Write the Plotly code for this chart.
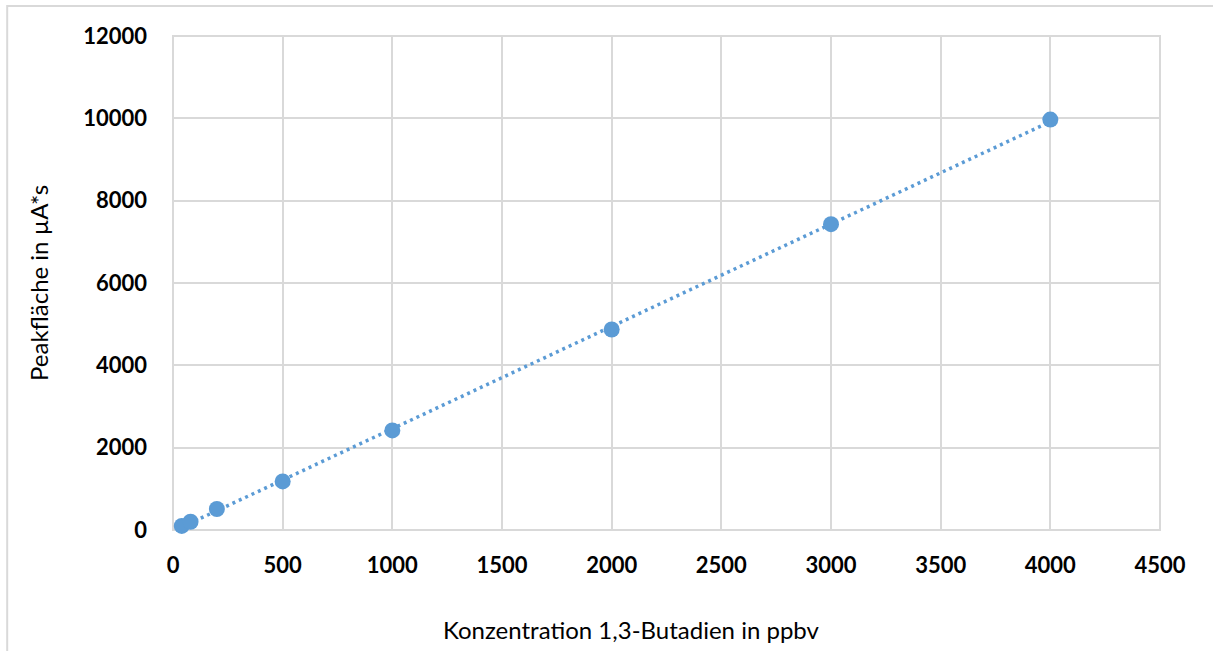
import numpy as np
import plotly.graph_objects as go

# Calibration data: 1,3-butadiene concentration vs. peak area
konzentration_ppbv = [40, 80, 200, 500, 1000, 2000, 3000, 4000]
peakflaeche = [100, 200, 510, 1180, 2420, 4870, 7430, 9970]

x_ticks = [0, 500, 1000, 1500, 2000, 2500, 3000, 3500, 4000, 4500]
y_ticks = [0, 2000, 4000, 6000, 8000, 10000, 12000]

x_title = "Konzentration 1,3-Butadien in ppbv"
y_title = "Peakfläche in µA*s"

blue = "#5B9BD5"
grid = "#D9D9D9"
font_family = "Lato, 'Open Sans', 'DejaVu Sans', sans-serif"

# Linear trend line fitted to the measurements
slope, intercept = np.polyfit(konzentration_ppbv, peakflaeche, 1)
trend_x = [min(konzentration_ppbv), max(konzentration_ppbv)]
trend_y = [slope * v + intercept for v in trend_x]

fig = go.Figure()
fig.add_trace(go.Scatter(
    x=trend_x, y=trend_y, mode="lines",
    line=dict(color=blue, width=3.5, dash="3px,4px"),
    hoverinfo="skip", showlegend=False,
))
fig.add_trace(go.Scatter(
    x=konzentration_ppbv, y=peakflaeche, mode="markers",
    marker=dict(color=blue, size=16, line=dict(width=0)),
    showlegend=False, cliponaxis=False,
))

tick_font = dict(family=font_family, size=22, color="#000000", weight="bold")

fig.update_xaxes(
    range=[0, 4500], tickvals=x_ticks, ticktext=[str(v) for v in x_ticks],
    showgrid=True, gridcolor=grid, gridwidth=2,
    zeroline=False, showline=False, ticks="", ticklen=0,
    tickfont=tick_font, ticklabelstandoff=20,
)
fig.update_yaxes(
    range=[0, 12000], tickvals=y_ticks, ticktext=[str(v) for v in y_ticks],
    showgrid=True, gridcolor=grid, gridwidth=2,
    zeroline=False, showline=False, ticks="", ticklen=0,
    tickfont=tick_font, ticklabelstandoff=25,
)

fig.update_layout(
    width=1213, height=651,
    margin=dict(l=173, r=53, t=36, b=121),
    paper_bgcolor="white", plot_bgcolor="white",
    font=dict(family=font_family, color="#000000"),
    shapes=[
        # outer chart frame
        dict(type="rect", xref="paper", yref="paper",
             x0=-0.168, x1=1.2, y0=-0.4, y1=1.0607,
             line=dict(color="#D9D9D9", width=2), layer="below"),
        # plot area border
        dict(type="rect", xref="paper", yref="paper", x0=0, x1=1, y0=0, y1=1,
             line=dict(color=grid, width=2), layer="below"),
    ],
    annotations=[
        dict(text=x_title, xref="paper", yref="paper", x=0.465, y=-0.202, yanchor="middle",
             xanchor="center", showarrow=False, font=dict(family=font_family, size=24)),
        dict(text=y_title, xref="paper", yref="paper", x=-0.1368, y=0.5, xanchor="center",
             yanchor="middle", textangle=-90, showarrow=False,
             font=dict(family=font_family, size=24)),
    ],
)

fig.write_html("out.html")
